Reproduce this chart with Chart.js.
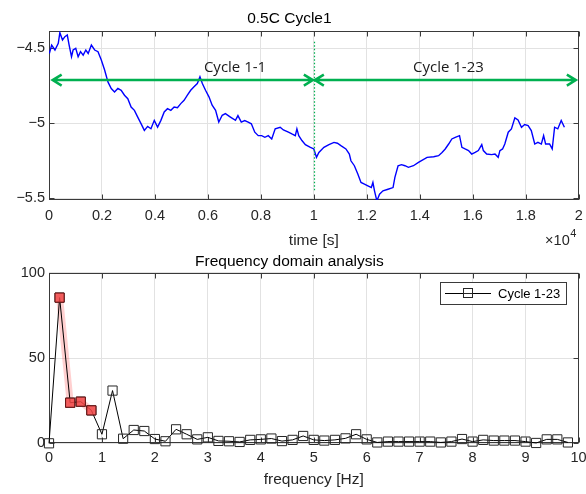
<!DOCTYPE html>
<html><head><meta charset="utf-8">
<script src="https://cdn.jsdelivr.net/npm/chart.js@4.4.1/dist/chart.umd.min.js"></script>
<style>
html,body{margin:0;padding:0;background:#fff;}
#wrap{position:relative;width:586px;height:494px;overflow:hidden;}
canvas{position:absolute;left:0;}
#c1{top:0;}
#c2{top:250px;}
</style></head><body>
<div id="wrap"><canvas id="c1" width="586" height="250"></canvas><canvas id="c2" width="586" height="244"></canvas></div>
<script>
// ---------- Top panel: 0.5C Cycle1 (time in s, value) ----------
const timeSeconds = [
  12,100,225,350,410,510,600,690,760,850,
  910,1010,1100,1190,1290,1390,1480,1600,1725,1850,
  1975,2100,2225,2350,2475,2600,2725,2850,2975,3100,
  3225,3350,3475,3600,3725,3850,3975,4100,4225,4350,
  4475,4600,4725,4850,4975,5100,5225,5350,5475,5600,
  5700,5790,5910,6040,6160,6290,6410,6540,6660,6850,
  7040,7134,7260,7390,7520,7640,7770,7900,8030,8150,
  8280,8410,8540,8730,8850,9040,9170,9300,9360,9430,
  9550,9680,9870,10000,10100,10190,10380,10570,10760,10890,
  11020,11210,11340,11400,11530,11660,11780,11910,12040,12170,
  12230,12290,12380,12480,12610,12800,12990,13060,13180,13310,
  13440,13570,13760,13950,14275,14525,14710,14840,14960,15090,
  15210,15340,15500,15590,15710,15840,15960,16090,16210,16340,
  16400,16525,16710,16840,16960,17025,17125,17210,17340,17460,
  17590,17710,17840,17960,18090,18210,18340,18460,18590,18675,
  18750,18900,19000,19090,19210,19340,19460
];
const voltage = [
  -4.534,-4.478,-4.511,-4.466,-4.395,-4.444,-4.422,-4.411,-4.478,-4.556,
  -4.511,-4.500,-4.556,-4.522,-4.545,-4.511,-4.534,-4.478,-4.511,-4.522,
  -4.578,-4.645,-4.724,-4.768,-4.791,-4.768,-4.780,-4.813,-4.836,-4.892,
  -4.914,-4.959,-5.003,-5.048,-5.021,-5.037,-4.981,-5.026,-4.981,-4.925,
  -4.903,-4.914,-4.892,-4.896,-4.869,-4.847,-4.813,-4.780,-4.757,-4.735,
  -4.690,-4.735,-4.780,-4.824,-4.880,-4.914,-4.992,-4.947,-4.936,-4.959,
  -4.981,-4.949,-4.993,-4.982,-4.993,-5.004,-5.060,-5.083,-5.083,-5.094,
  -5.083,-5.105,-5.038,-5.027,-5.045,-5.060,-5.072,-5.083,-5.038,-5.083,
  -5.116,-5.143,-5.161,-5.172,-5.228,-5.195,-5.161,-5.143,-5.128,-5.134,
  -5.150,-5.172,-5.206,-5.251,-5.284,-5.340,-5.396,-5.407,-5.418,-5.430,
  -5.396,-5.452,-5.519,-5.474,-5.452,-5.441,-5.430,-5.362,-5.284,-5.277,
  -5.284,-5.295,-5.284,-5.262,-5.228,-5.224,-5.217,-5.195,-5.172,-5.139,
  -5.105,-5.094,-5.083,-5.161,-5.172,-5.183,-5.206,-5.195,-5.183,-5.143,
  -5.183,-5.206,-5.210,-5.206,-5.228,-5.183,-5.172,-5.139,-5.060,-5.038,
  -4.964,-4.978,-5.027,-5.009,-5.016,-5.049,-5.139,-5.128,-5.139,-5.083,
  -5.139,-5.139,-5.172,-5.027,-5.038,-4.982,-5.027
];
const timeTicks = [0,2000,4000,6000,8000,10000,12000,14000,16000,18000,20000];
const voltageTicks = [-5.5,-5,-4.5];
const cycleBoundary = 10000;
const arrowLevel = -4.712;
const arrowSpans = [[100,10000],[10000,19930]];
const cycleLabels = ['Cycle 1-1','Cycle 1-23'];
const cycleLabelX = [7024,15080];
const cycleLabelY = -4.629;
const dividerRange = [-5.456,-4.456];

// ---------- Bottom panel: frequency domain ----------
const freqHz = [0,0.2,0.4,0.6,0.8,1.0,1.2,1.4,1.6,1.8,2.0,2.2,2.4,2.6,2.8,3.0,3.2,3.4,3.6,3.8,
  4.0,4.2,4.4,4.6,4.8,5.0,5.2,5.4,5.6,5.8,6.0,6.2,6.4,6.6,6.8,7.0,7.2,7.4,7.6,7.8,
  8.0,8.2,8.4,8.6,8.8,9.0,9.2,9.4,9.6,9.8];
const amplitude = [0,85.4,23.8,24.4,19.3,5.3,30.9,2.7,7.8,7.2,2.5,1.2,8.2,5.3,2.3,3.5,1.4,1.2,0.8,2.0,
  2.3,2.8,1.3,2.0,4.3,2.0,1.6,2.0,2.9,5.3,2.3,0.5,1.0,1.0,1.0,1.0,1.0,0.5,1.0,2.5,
  1.0,2.0,1.6,1.6,1.6,1.0,0.2,2.3,2.3,0.5];
const highlightHz = [0.2,0.4,0.6,0.8];
const highlightAmp = [85.4,23.8,24.4,19.3];
const freqTicks = [0,1,2,3,4,5,6,7,8,9,10];
const ampTicks = [0,50,100];
const legendLabel = 'Cycle 1-23';

Chart.defaults.font.family = '"Liberation Sans", Arial, sans-serif';
Chart.defaults.color = '#262626';

const GRID = '#e2e2e2';
const frame = {
  id: 'frame',
  beforeDatasetsDraw(chart) {
    const {ctx, chartArea: a, scales: {x, y}} = chart;
    ctx.save();
    ctx.strokeStyle = '#3a3a3a';
    ctx.lineWidth = 1;
    const L = Math.round(a.left) + 0.5, R = Math.round(a.right) - 0.5;
    const T = Math.round(a.top) + 0.5, B = Math.round(a.bottom) - 0.5;
    ctx.strokeRect(L, T, R - L, B - T);
    ctx.beginPath();
    x.ticks.forEach(t => {
      const p = Math.round(x.getPixelForValue(t.value)) + 0.5;
      ctx.moveTo(p, T); ctx.lineTo(p, T + 5);
      ctx.moveTo(p, B); ctx.lineTo(p, B - 5);
    });
    y.ticks.forEach(t => {
      const p = Math.round(y.getPixelForValue(t.value)) + 0.5;
      ctx.moveTo(L, p); ctx.lineTo(L + 5, p);
      ctx.moveTo(R, p); ctx.lineTo(R - 5, p);
    });
    ctx.stroke();
    ctx.restore();
  }
};

const cycleAnnotations = {
  id: 'cycles',
  afterDatasetsDraw(chart) {
    const {ctx, chartArea: a, scales: {x, y}} = chart;
    ctx.save();
    ctx.strokeStyle = '#00b050';
    const dx = Math.round(x.getPixelForValue(cycleBoundary)) + 0.5;
    ctx.setLineDash([1.5, 2]);
    ctx.lineWidth = 1.2;
    ctx.beginPath();
    ctx.moveTo(dx, y.getPixelForValue(dividerRange[1]));
    ctx.lineTo(dx, y.getPixelForValue(dividerRange[0]));
    ctx.stroke();
    ctx.setLineDash([]);
    ctx.lineWidth = 2.5;
    const ay = y.getPixelForValue(arrowLevel);
    arrowSpans.forEach(([s, e]) => {
      const xa = x.getPixelForValue(s), xb = x.getPixelForValue(e);
      ctx.beginPath();
      ctx.moveTo(xa + 1, ay); ctx.lineTo(xb - 1, ay);
      ctx.moveTo(xa + 10, ay - 5.5); ctx.lineTo(xa + 1, ay); ctx.lineTo(xa + 10, ay + 5.5);
      ctx.moveTo(xb - 10, ay - 5.5); ctx.lineTo(xb - 1, ay); ctx.lineTo(xb - 10, ay + 5.5);
      ctx.stroke();
    });
    ctx.fillStyle = '#1a1a1a';
    ctx.font = '15px "Open Sans", sans-serif';
    ctx.textAlign = 'center';
    ctx.textBaseline = 'middle';
    cycleLabels.forEach((s, i) => ctx.fillText(s, x.getPixelForValue(cycleLabelX[i]), y.getPixelForValue(cycleLabelY)));
    // x10^4 exponent label
    ctx.fillStyle = '#262626';
    ctx.textAlign = 'right';
    ctx.font = '14.5px "Liberation Sans", Arial, sans-serif';
    ctx.fillText('\u00d710', a.right - 9, 241);
    ctx.textAlign = 'left';
    ctx.font = '11px "Liberation Sans", Arial, sans-serif';
    ctx.fillText('4', a.right - 8.5, 234);
    ctx.restore();
  }
};

const freqLegend = {
  id: 'freqLegend',
  afterDraw(chart) {
    const {ctx} = chart;
    ctx.save();
    ctx.fillStyle = '#fff';
    ctx.strokeStyle = '#3a3a3a';
    ctx.lineWidth = 1;
    ctx.fillRect(440.5, 32.5, 126, 22);
    ctx.strokeRect(440.5, 32.5, 126, 22);
    ctx.strokeStyle = '#000';
    ctx.beginPath(); ctx.moveTo(445, 43.5); ctx.lineTo(491, 43.5); ctx.stroke();
    ctx.fillStyle = '#fff';
    ctx.strokeStyle = '#262626';
    ctx.fillRect(463.5, 38.5, 9, 9);
    ctx.strokeRect(463.5, 38.5, 9, 9);
    ctx.beginPath(); ctx.moveTo(463.5, 43.5); ctx.lineTo(472.5, 43.5); ctx.stroke();
    ctx.fillStyle = '#000';
    ctx.font = '13px "Liberation Sans", Arial, sans-serif';
    ctx.textAlign = 'left';
    ctx.textBaseline = 'middle';
    ctx.fillText(legendLabel, 498, 44);
    ctx.restore();
  }
};

const minusFmt = v => (v < 0 ? '\u2212' : '') + Math.abs(v);
const fitX = h => s => { s.height = h; s.paddingLeft = 0; s.paddingRight = 0; };
const fitY = s => { s.width = 49; s.paddingTop = 0; s.paddingBottom = 0; };

new Chart(document.getElementById('c1'), {
  type: 'line',
  data: {
    datasets: [{
      data: timeSeconds.map((t, i) => ({x: t, y: voltage[i]})),
      borderColor: '#0000ff',
      borderWidth: 1.4,
      pointRadius: 0,
      tension: 0
    }]
  },
  options: {
    responsive: false, animation: false, devicePixelRatio: 1,
    layout: {padding: {left: 0, right: 7.3, top: 0, bottom: 0}},
    plugins: {
      legend: {display: false}, tooltip: {enabled: false},
      title: {display: true, text: '0.5C Cycle1', color: '#000',
        font: {size: 15.5, weight: 'normal'}, padding: {top: 9.7, bottom: 2.7}}
    },
    scales: {
      x: {
        type: 'linear', min: 0, max: 20000,
        afterBuildTicks: s => { s.ticks = timeTicks.map(v => ({value: v})); },
        ticks: {callback: v => String(+(v / 1e4).toFixed(1)), padding: 7, maxRotation: 0, autoSkip: false, font: {size: 14.5}},
        grid: {color: GRID, drawTicks: false},
        border: {display: false},
        title: {display: true, text: 'time [s]', color: '#262626', font: {size: 15.5}, padding: {top: 0, bottom: 0}},
        afterFit: fitX(50)
      },
      y: {
        type: 'linear', min: -5.513, max: -4.384,
        afterBuildTicks: s => { s.ticks = voltageTicks.map(v => ({value: v})); },
        ticks: {callback: minusFmt, padding: 4, font: {size: 14.5}},
        grid: {color: GRID, drawTicks: false},
        border: {display: false},
        afterFit: fitY
      }
    }
  },
  plugins: [frame, cycleAnnotations]
});

new Chart(document.getElementById('c2'), {
  type: 'line',
  data: {
    datasets: [
      {
        data: highlightHz.map((f, i) => ({x: f, y: highlightAmp[i]})),
        borderColor: 'rgba(255,40,40,0.22)', borderWidth: 7, borderCapStyle: 'round', borderJoinStyle: 'round',
        pointRadius: 0, tension: 0, order: 3, clip: false
      },
      {
        label: legendLabel,
        data: freqHz.map((f, i) => ({x: f, y: amplitude[i]})),
        borderColor: '#000', borderWidth: 1,
        pointStyle: 'rect', pointRadius: 6.5, pointBorderWidth: 1,
        pointBorderColor: '#262626', pointBackgroundColor: 'rgba(0,0,0,0)',
        tension: 0, order: 2, clip: false
      },
      {
        data: highlightHz.map((f, i) => ({x: f, y: highlightAmp[i]})),
        showLine: false,
        pointStyle: 'rect', pointRadius: 6.5, pointBorderWidth: 1,
        pointBorderColor: '#6a1515', pointBackgroundColor: 'rgba(240,70,70,0.85)',
        order: 1, clip: false
      }
    ]
  },
  options: {
    responsive: false, animation: false, devicePixelRatio: 1,
    layout: {padding: {left: 0, right: 7.3, top: 0, bottom: 0}},
    plugins: {
      legend: {display: false}, tooltip: {enabled: false},
      title: {display: true, text: 'Frequency domain analysis', color: '#000',
        font: {size: 15.5, weight: 'normal'}, padding: {top: 2.7, bottom: 1.4}}
    },
    scales: {
      x: {
        type: 'linear', min: 0, max: 10,
        afterBuildTicks: s => { s.ticks = freqTicks.map(v => ({value: v})); },
        ticks: {padding: 6, maxRotation: 0, autoSkip: false, font: {size: 14.5}},
        grid: {color: GRID, drawTicks: false},
        border: {display: false},
        title: {display: true, text: 'frequency [Hz]', color: '#262626', font: {size: 15.5}, padding: {top: 0, bottom: 5}},
        afterFit: fitX(50.7)
      },
      y: {
        type: 'linear', min: 0, max: 100,
        afterBuildTicks: s => { s.ticks = ampTicks.map(v => ({value: v})); },
        ticks: {padding: 4, font: {size: 14.5}},
        grid: {color: GRID, drawTicks: false},
        border: {display: false},
        afterFit: fitY
      }
    }
  },
  plugins: [frame, freqLegend]
});
</script>
</body></html>
